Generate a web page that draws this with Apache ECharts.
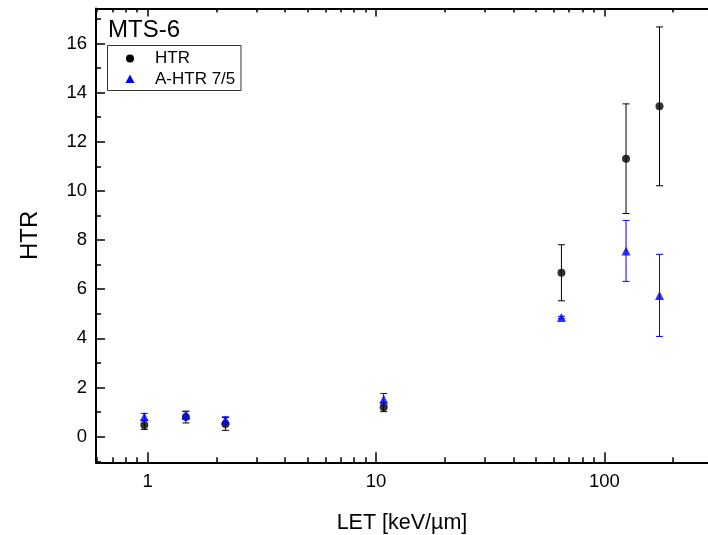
<!DOCTYPE html>
<html>
<head>
<meta charset="utf-8">
<script src="https://cdn.jsdelivr.net/npm/echarts@6/dist/echarts.min.js"></script>
<style>
  html, body { margin: 0; padding: 0; background: #fff; }
  #chart { width: 708px; height: 535px; }
</style>
</head>
<body>
<div id="chart"></div>
<script>
// LET values (keV/µm) of the measured beams
const letValues = [0.967, 1.47, 2.19, 10.8, 64.8, 124.3, 174.2];
// HTR and its uncertainty
const htrValues = [0.48, 0.80, 0.52, 1.20, 6.67, 11.31, 13.44];
const htrErrors = [0.18, 0.24, 0.26, 0.18, 1.14, 2.23, 3.23];
// A-HTR 7/5 and its uncertainty
const ahtrValues = [0.81, 0.88, 0.68, 1.52, 4.85, 7.56, 5.75];
const ahtrErrors = [0.14, 0.14, 0.13, 0.24, 0.05, 1.24, 1.67];

// Tick positions
const xMajorTicks = [1, 10, 100];
const xMinorTicks = [0.6, 0.7, 0.8, 0.9, 2, 3, 4, 5, 6, 7, 8, 9, 20, 30, 40, 50, 60, 70, 80, 90, 200];
const yMajorTicks = [0, 2, 4, 6, 8, 10, 12, 14, 16];
const yMinorTicks = [-1, 1, 3, 5, 7, 9, 11, 13, 15, 17];

const FONT = 'Liberation Sans, Arial, sans-serif';
const X_MIN = 0.594, X_MAX = 284;
const Y_MIN = -1.04, Y_MAX = 17.42;

const points = (ys) => letValues.map((x, i) => [x, ys[i]]);
const bars = (ys, es) => letValues.map((x, i) => [x, ys[i] - es[i], ys[i] + es[i]]);

function errorBar(color) {
  return function (params, api) {
    const x = api.value(0);
    const lo = api.coord([x, api.value(1)]);
    const hi = api.coord([x, api.value(2)]);
    const half = 3.5;
    const style = { stroke: color, lineWidth: 1 };
    return {
      type: 'group',
      children: [
        { type: 'line', shape: { x1: lo[0], y1: lo[1], x2: hi[0], y2: hi[1] }, style },
        { type: 'line', shape: { x1: lo[0] - half, y1: lo[1], x2: lo[0] + half, y2: lo[1] }, style },
        { type: 'line', shape: { x1: hi[0] - half, y1: hi[1], x2: hi[0] + half, y2: hi[1] }, style }
      ]
    };
  };
}

function xAxisDef(position, ticks, len, withLine, withLabels) {
  return {
    type: 'log', logBase: 10, min: X_MIN, max: X_MAX, position,
    axisLine: { show: withLine, onZero: false, lineStyle: { color: '#000', width: 2 } },
    axisTick: { show: true, inside: true, length: len, customValues: ticks, lineStyle: { color: '#000', width: 1.5 } },
    axisLabel: withLabels
      ? { show: true, customValues: ticks, color: '#000', fontFamily: FONT, fontSize: 18.5, margin: 10 }
      : { show: false },
    splitLine: { show: false }, minorTick: { show: false }
  };
}

function yAxisDef(ticks, len, withLine, withLabels) {
  return {
    type: 'value', min: Y_MIN, max: Y_MAX, position: 'left',
    axisLine: { show: withLine, onZero: false, lineStyle: { color: '#000', width: 2 } },
    axisTick: { show: true, inside: true, length: len, customValues: ticks, lineStyle: { color: '#000', width: 1.5 } },
    axisLabel: withLabels
      ? { show: true, customValues: ticks, color: '#000', fontFamily: FONT, fontSize: 18.5, margin: 9 }
      : { show: false },
    splitLine: { show: false }
  };
}

// Boxed key in the upper-left corner
const legendGraphics = [
  { type: 'rect', shape: { x: 107.5, y: 45.5, width: 133.5, height: 45 },
    style: { fill: '#fff', stroke: '#333', lineWidth: 1 }, z: 10 },
  { type: 'circle', shape: { cx: 130, cy: 58.5, r: 4 }, style: { fill: '#000' }, z: 11 },
  { type: 'polygon', shape: { points: [[130, 74.5], [134.5, 83], [125.5, 83]] },
    style: { fill: '#0000ff' }, z: 11 },
  { type: 'text', x: 155, y: 58.5, z: 11,
    style: { text: 'HTR', fontFamily: FONT, fontSize: 17, fill: '#000', verticalAlign: 'middle' } },
  { type: 'text', x: 155, y: 79, z: 11,
    style: { text: 'A-HTR 7/5', fontFamily: FONT, fontSize: 17, fill: '#000', verticalAlign: 'middle' } }
];

const chart = echarts.init(document.getElementById('chart'), null, { renderer: 'canvas' });
chart.setOption({
  animation: false,
  backgroundColor: '#fff',
  grid: { left: 96, right: 0, top: 8.5, bottom: 72.7, containLabel: false, outerBoundsMode: 'none' },
  title: {
    text: 'MTS-6', left: 108, top: 18, padding: 0,
    textStyle: { fontFamily: FONT, fontSize: 24, fontWeight: 'normal', color: '#000' }
  },
  graphic: legendGraphics,
  xAxis: [
    Object.assign(xAxisDef('bottom', xMajorTicks, 10, true, true), {
      name: 'LET [keV/µm]', nameLocation: 'middle', nameGap: 50,
      nameTextStyle: { fontFamily: FONT, fontSize: 21.5, color: '#000' }
    }),
    xAxisDef('bottom', xMinorTicks, 5, false, false),
    xAxisDef('top', xMajorTicks, 8, true, false),
    xAxisDef('top', xMinorTicks, 4, false, false)
  ],
  yAxis: [
    Object.assign(yAxisDef(yMajorTicks, 9, true, true), {
      name: 'HTR', nameLocation: 'middle', nameGap: 54,
      nameTextStyle: { fontFamily: FONT, fontSize: 24, color: '#000' }
    }),
    yAxisDef(yMinorTicks, 5, false, false)
  ],
  series: [
    {
      name: 'HTR error', type: 'custom', xAxisIndex: 0, yAxisIndex: 0,
      renderItem: errorBar('#000'), encode: { x: 0, y: [1, 2] },
      data: bars(htrValues, htrErrors), z: 2, silent: true
    },
    {
      name: 'HTR', type: 'scatter', xAxisIndex: 0, yAxisIndex: 0,
      symbol: 'circle', symbolSize: 8, itemStyle: { color: '#000' },
      data: points(htrValues), z: 3
    },
    {
      name: 'A-HTR 7/5 error', type: 'custom', xAxisIndex: 0, yAxisIndex: 0,
      renderItem: errorBar('#0000ff'), encode: { x: 0, y: [1, 2] },
      data: bars(ahtrValues, ahtrErrors), z: 4, silent: true
    },
    {
      name: 'A-HTR 7/5', type: 'scatter', xAxisIndex: 0, yAxisIndex: 0,
      symbol: 'triangle', symbolSize: 9, itemStyle: { color: '#0000ff' },
      data: points(ahtrValues), z: 5
    }
  ]
});
</script>
</body>
</html>
